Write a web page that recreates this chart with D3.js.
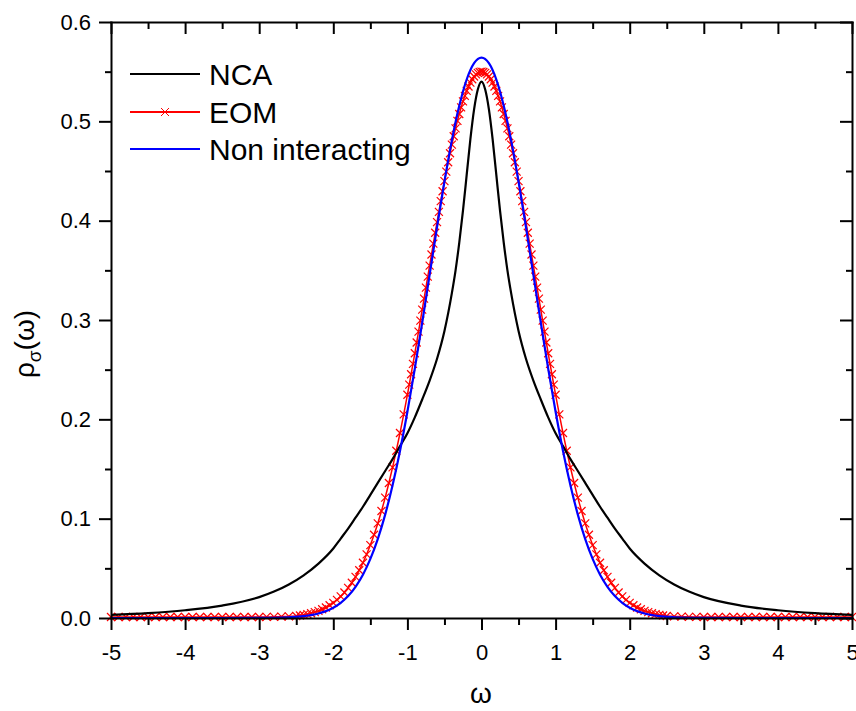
<!DOCTYPE html>
<html>
<head>
<meta charset="utf-8">
<script src="https://cdnjs.cloudflare.com/ajax/libs/d3/7.8.5/d3.min.js"></script>
<style>
  body { margin: 0; background: #fff; }
  svg { display: block; font-family: Arial, "Liberation Sans", sans-serif; }
</style>
</head>
<body>
<svg id="chart"></svg>
<script>
// spectral functions
var NCA_OMEGA = [-5.0,-4.5,-4.0,-3.5,-3.0,-2.8,-2.6,-2.4,-2.2,-2.0,-1.9,-1.8,-1.7,-1.6,-1.5,-1.4,-1.3,-1.2,-1.1,-1.0,-0.9,-0.8,-0.7,-0.6,-0.5,-0.4,-0.35,-0.3,-0.25,-0.2,-0.15,-0.1,-0.05,
  0, 0.05,0.1,0.15,0.2,0.25,0.3,0.35,0.4,0.5,0.6,0.7,0.8,0.9,1.0,1.1,1.2,1.3,1.4,1.5,1.6,1.7,1.8,1.9,2.0,2.2,2.4,2.6,2.8,3.0,3.5,4.0,4.5,5.0];
var NCA_RHO = [0.0032,0.0049,0.0078,0.0125,0.0210,0.0266,0.0338,0.0430,0.0548,0.070,0.080,0.090,0.101,0.112,0.124,0.136,0.148,0.160,0.173,0.186,0.202,0.220,0.239,0.261,0.289,0.327,0.350,0.378,0.410,0.446,0.482,0.512,0.532,
  0.540, 0.532,0.512,0.482,0.446,0.410,0.378,0.350,0.327,0.289,0.261,0.239,0.220,0.202,0.186,0.173,0.160,0.148,0.136,0.124,0.112,0.101,0.090,0.080,0.070,0.0548,0.0430,0.0338,0.0266,0.0210,0.0125,0.0078,0.0049,0.0032];

var EOM_OMEGA = [-5.0,-4.9,-4.8,-4.7,-4.6,-4.5,-4.4,-4.3,-4.2,-4.1,-4.0,-3.9,-3.8,-3.7,-3.6,-3.5,-3.4,-3.3,-3.2,-3.1,-3.0,-2.9,-2.8,-2.7,-2.6,
  -2.5,-2.45,-2.4,-2.35,-2.3,-2.25,-2.2,-2.15,-2.1,-2.05,-2.0,-1.95,-1.9,-1.85,-1.8,-1.75,-1.7,-1.65,-1.6,-1.55,-1.5,-1.45,-1.4,-1.35,-1.3,-1.25,-1.2,-1.15,-1.1,-1.05,
  -1.0,-0.975,-0.95,-0.925,-0.9,-0.875,-0.85,-0.825,-0.8,-0.775,-0.75,-0.725,-0.7,-0.675,-0.65,-0.625,-0.6,-0.575,-0.55,-0.525,
  -0.5,-0.475,-0.45,-0.425,-0.4,-0.375,-0.35,-0.325,-0.3,-0.275,-0.25,-0.225,-0.2,-0.175,-0.15,-0.125,-0.1,-0.075,-0.05,-0.025,
  0,
  0.025,0.05,0.075,0.1,0.125,0.15,0.175,0.2,0.225,0.25,0.275,0.3,0.325,0.35,0.375,0.4,0.425,0.45,0.475,0.5,
  0.525,0.55,0.575,0.6,0.625,0.65,0.675,0.7,0.725,0.75,0.775,0.8,0.825,0.85,0.875,0.9,0.925,0.95,0.975,1.0,
  1.05,1.1,1.15,1.2,1.25,1.3,1.35,1.4,1.45,1.5,1.55,1.6,1.65,1.7,1.75,1.8,1.85,1.9,1.95,2.0,2.05,2.1,2.15,2.2,2.25,2.3,2.35,2.4,2.45,2.5,
  2.6,2.7,2.8,2.9,3.0,3.1,3.2,3.3,3.4,3.5,3.6,3.7,3.8,3.9,4.0,4.1,4.2,4.3,4.4,4.5,4.6,4.7,4.8,4.9,5.0];
var EOM_RHO = [0.0010,0.0010,0.0010,0.0010,0.0010,0.0010,0.0010,0.0010,0.0010,0.0010,0.0010,0.0010,0.0010,0.0010,0.0010,0.0010,0.0010,0.0010,0.0010,0.0010,0.0010,0.0011,0.0012,0.0014,0.0016,
  0.0020,0.0025,0.0032,0.0039,0.0048,0.0059,0.0072,0.0088,0.0106,0.0128,0.0153,0.0183,0.0218,0.0257,0.0303,0.0355,0.0414,0.0481,0.0556,0.0641,0.0734,0.0838,0.0952,0.1077,0.1212,0.1359,0.1516,0.1684,0.1862,0.2050,
  0.2247,0.2349,0.2454,0.2558,0.2665,0.2773,0.2883,0.2993,0.3104,0.3215,0.3326,0.3437,0.3548,0.3659,0.3769,0.3878,0.3986,0.4089,0.4196,0.4296,
  0.4398,0.4494,0.4588,0.4679,0.4766,0.4850,0.4929,0.5004,0.5074,0.5140,0.5201,0.5256,0.5307,0.5351,0.5390,0.5424,0.5451,0.5472,0.5488,0.5497,
  0.5500,
  0.5497,0.5488,0.5472,0.5451,0.5424,0.5390,0.5351,0.5307,0.5256,0.5201,0.5140,0.5074,0.5004,0.4929,0.4850,0.4766,0.4679,0.4588,0.4494,0.4398,
  0.4296,0.4196,0.4089,0.3986,0.3878,0.3769,0.3659,0.3548,0.3437,0.3326,0.3215,0.3104,0.2993,0.2883,0.2773,0.2665,0.2558,0.2454,0.2349,0.2247,
  0.2050,0.1862,0.1684,0.1516,0.1359,0.1212,0.1077,0.0952,0.0838,0.0734,0.0641,0.0556,0.0481,0.0414,0.0355,0.0303,0.0257,0.0218,0.0183,0.0153,0.0128,0.0106,0.0088,0.0072,0.0059,0.0048,0.0039,0.0032,0.0025,0.0020,
  0.0016,0.0014,0.0012,0.0011,0.0010,0.0010,0.0010,0.0010,0.0010,0.0010,0.0010,0.0010,0.0010,0.0010,0.0010,0.0010,0.0010,0.0010,0.0010,0.0010,0.0010,0.0010,0.0010,0.0010,0.0010];

var NI_OMEGA = [-5.0,-4.5,-4.0,-3.5,-3.0,-2.8,-2.6,-2.4,-2.2,-2.0,-1.9,-1.8,-1.7,-1.6,-1.5,-1.4,-1.3,-1.2,-1.1,-1.0,-0.9,-0.8,-0.7,-0.6,-0.5,-0.4,-0.3,-0.2,-0.1,
  0, 0.1,0.2,0.3,0.4,0.5,0.6,0.7,0.8,0.9,1.0,1.1,1.2,1.3,1.4,1.5,1.6,1.7,1.8,1.9,2.0,2.2,2.4,2.6,2.8,3.0,3.5,4.0,4.5,5.0];
var NI_RHO = [0,0,0,0,0.0001,0.0002,0.0007,0.0018,0.0045,0.0103,0.0153,0.0221,0.0314,0.0436,0.0595,0.0795,0.1041,0.1337,0.1682,0.2076,0.2510,0.2975,0.3456,0.3936,0.4394,0.4808,0.5156,0.5421,0.5586,
  0.5642, 0.5586,0.5421,0.5156,0.4808,0.4394,0.3936,0.3456,0.2975,0.2510,0.2076,0.1682,0.1337,0.1041,0.0795,0.0595,0.0436,0.0314,0.0221,0.0153,0.0103,0.0045,0.0018,0.0007,0.0002,0.0001,0,0,0,0];

var X_TICKS = [-5,-4,-3,-2,-1,0,1,2,3,4,5];
var X_MINOR = [-4.5,-3.5,-2.5,-1.5,-0.5,0.5,1.5,2.5,3.5,4.5];
var Y_TICKS = [0,0.1,0.2,0.3,0.4,0.5,0.6];
var Y_MINOR = [0.05,0.15,0.25,0.35,0.45,0.55];

var LEGEND = ['NCA', 'EOM', 'Non interacting'];

var WIDTH = 856;
var HEIGHT = 711;
var svg = d3.select('#chart').attr('width', WIDTH).attr('height', HEIGHT);

var xScale = d3.scaleLinear().domain([-5, 5]).range([111, 852]);
var yScale = d3.scaleLinear().domain([0, 0.6]).range([618, 22]);

function zip(a, b) {
  var out = [];
  for (var i = 0; i < Math.min(a.length, b.length); i++) out.push([a[i], b[i]]);
  return out;
}
var nca = zip(NCA_OMEGA, NCA_RHO);
var eom = zip(EOM_OMEGA, EOM_RHO);
var ni = zip(NI_OMEGA, NI_RHO);

var line = d3.line()
  .x(function(d){ return xScale(d[0]); })
  .y(function(d){ return yScale(d[1]); })
  .curve(d3.curveMonotoneX);

// EOM: thin red line plus x markers
svg.append('path').datum(eom)
  .attr('d', line).attr('fill', 'none').attr('stroke', '#ff0000').attr('stroke-width', 1.5);
svg.append('g').selectAll('path').data(eom).enter().append('path')
  .attr('d', function(d){
    var cx = xScale(d[0]), cy = yScale(d[1]), s = 4;
    return 'M' + (cx - s) + ',' + (cy - s) + 'L' + (cx + s) + ',' + (cy + s) +
           'M' + (cx - s) + ',' + (cy + s) + 'L' + (cx + s) + ',' + (cy - s);
  })
  .attr('stroke', '#ff0000').attr('stroke-width', 1.2).attr('fill', 'none');

svg.append('path').datum(nca)
  .attr('d', line).attr('fill', 'none').attr('stroke', '#000').attr('stroke-width', 2.2);
svg.append('path').datum(ni)
  .attr('d', line).attr('fill', 'none').attr('stroke', '#0000ff').attr('stroke-width', 2.2);

// axes
function styleAxis(g) {
  g.selectAll('path.domain').attr('stroke', '#000').attr('stroke-width', 2).attr('stroke-linecap', 'square');
  g.selectAll('.tick line').attr('stroke', '#000').attr('stroke-width', 2);
  g.selectAll('.tick text').attr('fill', '#000').style('font-size', '22px')
    .style('font-family', 'Arial, "Liberation Sans", sans-serif');
}

var gx = svg.append('g').attr('transform', 'translate(0,618)')
  .call(d3.axisBottom(xScale).tickValues(X_TICKS).tickSize(12).tickSizeOuter(0).tickPadding(14)
    .tickFormat(function(d){ return String(d); }));
styleAxis(gx);
var gxm = svg.append('g').attr('transform', 'translate(0,618)')
  .call(d3.axisBottom(xScale).tickValues(X_MINOR).tickSize(7).tickFormat(''));
gxm.select('.domain').remove(); styleAxis(gxm);

var gt = svg.append('g').attr('transform', 'translate(0,22)')
  .call(d3.axisBottom(xScale).tickValues(X_TICKS).tickSize(12).tickSizeOuter(0).tickFormat(''));
styleAxis(gt);
var gtm = svg.append('g').attr('transform', 'translate(0,22)')
  .call(d3.axisBottom(xScale).tickValues(X_MINOR).tickSize(7).tickFormat(''));
gtm.select('.domain').remove(); styleAxis(gtm);

var gy = svg.append('g').attr('transform', 'translate(111,0)')
  .call(d3.axisLeft(yScale).tickValues(Y_TICKS).tickSize(12).tickSizeOuter(0).tickPadding(8)
    .tickFormat(function(d){ return d.toFixed(1); }));
styleAxis(gy);
var gym = svg.append('g').attr('transform', 'translate(111,0)')
  .call(d3.axisLeft(yScale).tickValues(Y_MINOR).tickSize(6).tickFormat(''));
gym.select('.domain').remove(); styleAxis(gym);

var gr = svg.append('g').attr('transform', 'translate(852,0)')
  .call(d3.axisLeft(yScale).tickValues(Y_TICKS).tickSize(12).tickSizeOuter(0).tickFormat(''));
styleAxis(gr);
var grm = svg.append('g').attr('transform', 'translate(852,0)')
  .call(d3.axisLeft(yScale).tickValues(Y_MINOR).tickSize(6).tickFormat(''));
grm.select('.domain').remove(); styleAxis(grm);

// axis titles
svg.append('text').attr('x', 481).attr('y', 703).attr('text-anchor', 'middle')
  .style('font-size', '28px').text('ω');

var yt = svg.append('text').attr('transform', 'translate(34,344) rotate(-90)')
  .attr('text-anchor', 'middle').style('font-size', '28px');
yt.append('tspan').text('ρ');
yt.append('tspan').attr('dy', 7).style('font-size', '19px').text('σ');
yt.append('tspan').attr('dy', -7).text('(ω)');

// legend
var legendY = [74, 112, 149];
var legendColor = ['#000', '#ff0000', '#0000ff'];
var lg = svg.append('g');
LEGEND.forEach(function(name, i){
  lg.append('line').attr('x1', 130).attr('x2', 200).attr('y1', legendY[i]).attr('y2', legendY[i])
    .attr('stroke', legendColor[i]).attr('stroke-width', 2.2);
  lg.append('text').attr('x', 209).attr('y', legendY[i]).attr('dy', '0.36em')
    .style('font-size', '30px').text(name);
});
lg.append('path')
  .attr('d', 'M161,108L169,116M161,116L169,108')
  .attr('stroke', '#ff0000').attr('stroke-width', 1).attr('fill', 'none');
</script>
</body>
</html>
